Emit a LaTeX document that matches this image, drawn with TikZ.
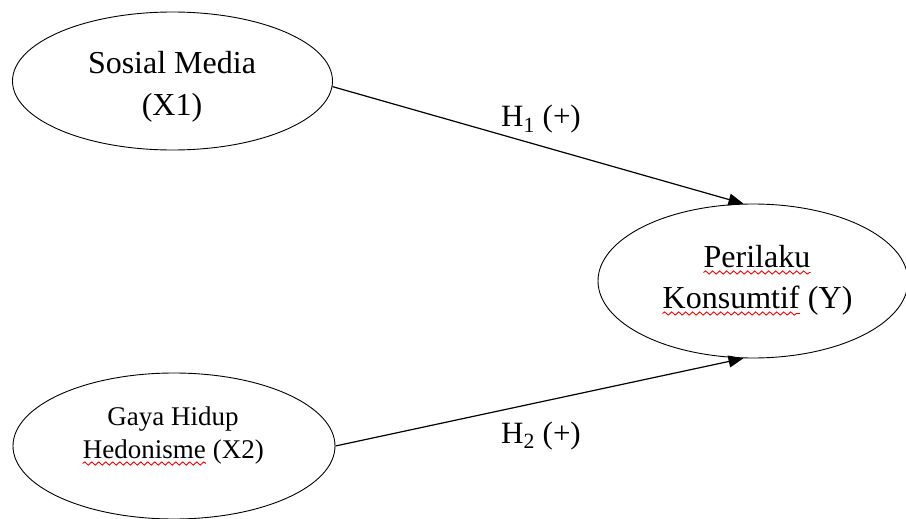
\documentclass[tikz,border=0pt]{standalone}
\usepackage{fontspec}
\setmainfont{Liberation Serif}
\usetikzlibrary{shapes.geometric,arrows.meta,decorations.pathmorphing}
\tikzset{
  ell/.style={draw=black, line width=0.9pt, ellipse, inner sep=0pt},
  bigtxt/.style={anchor=base, inner sep=0pt, font=\fontsize{32}{38}\selectfont},
  midtxt/.style={anchor=base, inner sep=0pt, font=\fontsize{27}{32}\selectfont},
  lbl/.style={anchor=base, inner sep=0pt, font=\fontsize{31}{36}\selectfont},
  arr/.style={draw=black, line width=1.2pt, -{Triangle[length=15pt,width=12pt]}},
  squig/.style={draw=red, line width=0.9pt, decorate, decoration={snake, amplitude=1.6pt, segment length=7pt}}
}
\begin{document}
\begin{tikzpicture}[x=1pt,y=-1pt]
\useasboundingbox (0,0) rectangle (906,519);
% ellipses
\node[ell, minimum width=320pt, minimum height=138pt] (sm) at (172.5,81) {};
\node[ell, minimum width=310pt, minimum height=154pt] (py) at (753,281) {};
\node[ell, minimum width=322pt, minimum height=146pt] (gh) at (174,446) {};
% texts
\node[bigtxt] (sm1) at (172,74) {Sosial Media};
\node[bigtxt] (sm2) at (172,115) {(X1)};
\node[bigtxt] (py1) at (757,267) {Perilaku};
\node[bigtxt, anchor=base west] (py2) at (662.5,308) {Konsumtif};
\node[bigtxt, anchor=base west] (py3) at ([xshift=8pt]py2.base east) {(Y)};
\node[midtxt] (gh1) at (173,425) {Gaya Hidup};
\node[midtxt, anchor=base west] (gh2) at (82.6,458) {Hedonisme};
\node[midtxt, anchor=base west] (gh3) at ([xshift=6.75pt]gh2.base east) {(X2)};
% spelling squiggles
\draw[squig] ([yshift=-5.5pt]py1.base west) -- ([yshift=-5.5pt]py1.base east);
\draw[squig] ([yshift=-5.5pt]py2.base west) -- ([yshift=-5.5pt]py2.base east);
\draw[squig] ([yshift=-5.5pt]gh2.base west) -- ([yshift=-5.5pt]gh2.base east);
% arrows
\draw[arr] (sm.-2) -- (py.97);
\draw[arr] (gh.east) -- (py.-97);
% labels
\node[lbl] (h1) at (541,127) {H\textsubscript{1} (+)};
\node[lbl] (h2) at (541,443) {H\textsubscript{2} (+)};
\end{tikzpicture}
\end{document}
